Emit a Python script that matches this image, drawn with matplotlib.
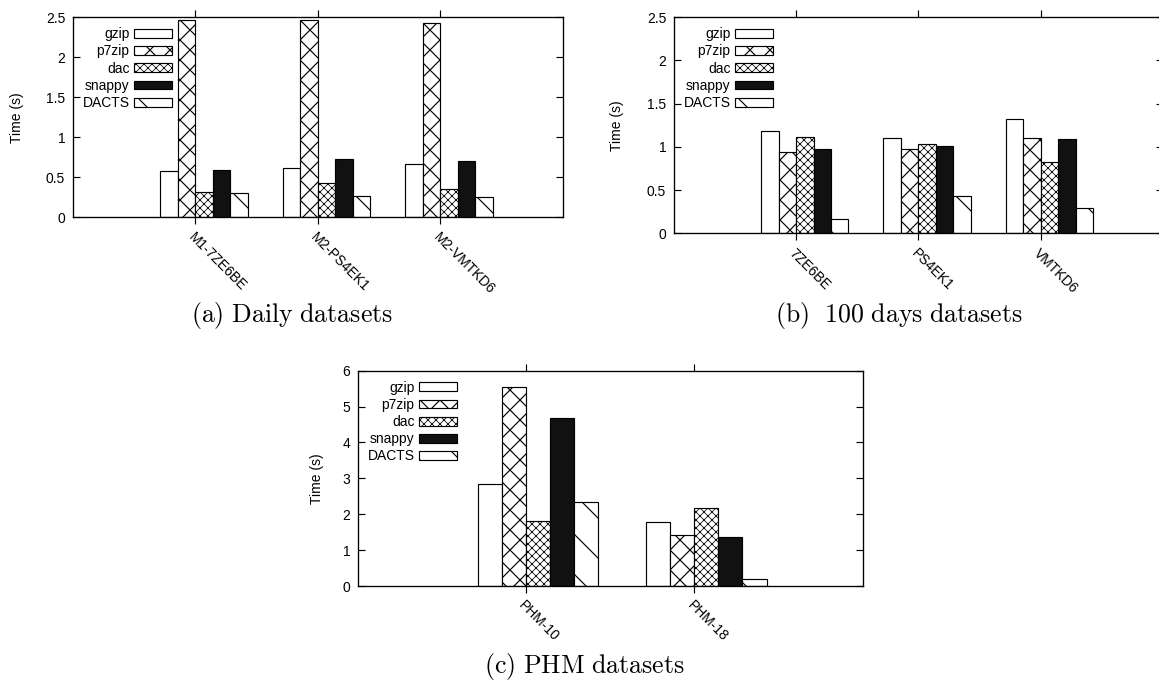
import matplotlib
matplotlib.use("Agg")
import matplotlib.pyplot as plt
import numpy as np
from matplotlib.ticker import FuncFormatter, MultipleLocator
from matplotlib.patches import Patch

# ---------------- data ----------------
series = ["gzip", "p7zip", "dac", "snappy", "DACTS"]

daily_labels = ["M1-7ZE6BE", "M2-PS4EK1", "M2-VMTKD6"]
daily_gzip = [0.58, 0.62, 0.66]
daily_p7zip = [2.46, 2.46, 2.43]
daily_dac = [0.31, 0.43, 0.35]
daily_snappy = [0.59, 0.73, 0.70]
daily_dacts = [0.30, 0.26, 0.25]

days100_labels = ["7ZE6BE", "PS4EK1", "VMTKD6"]
days100_gzip = [1.18, 1.10, 1.32]
days100_p7zip = [0.94, 0.97, 1.10]
days100_dac = [1.12, 1.03, 0.82]
days100_snappy = [0.97, 1.01, 1.09]
days100_dacts = [0.17, 0.43, 0.29]

phm_labels = ["PHM-10", "PHM-18"]
phm_gzip = [2.85, 1.77]
phm_p7zip = [5.54, 1.42]
phm_dac = [1.82, 2.17]
phm_snappy = [4.69, 1.37]
phm_dacts = [2.33, 0.19]

captions = [r"$\mathrm{(a)\ Daily\ datasets}$",
            r"$\mathrm{(b)\ \ 100\ days\ datasets}$",
            r"$\mathrm{(c)\ PHM\ datasets}$"]

# ---------------- style ----------------
W, H = 1159, 685
DPI = 120
plt.rcParams["font.family"] = ["Liberation Sans", "DejaVu Sans"]
plt.rcParams["mathtext.fontset"] = "cm"
plt.rcParams["hatch.linewidth"] = 0.7
plt.rcParams["hatch.color"] = "black"

styles = [
    dict(facecolor="white", hatch=None, hlw=0.7),
    dict(facecolor="white", hatch="xx", hlw=0.7),
    dict(facecolor="white", hatch="xxxxx", hlw=0.45),
    dict(facecolor="#111111", hatch=None, hlw=0.7),
    dict(facecolor="white", hatch="\\", hlw=0.7),
]

fig = plt.figure(figsize=(W / DPI, H / DPI), dpi=DPI)


def px_axes(x0, y0, x1, y1):
    return fig.add_axes([x0 / W, 1 - y1 / H, (x1 - x0) / W, (y1 - y0) / H])


def set_hlw(patch, lw):
    if hasattr(patch, "set_hatch_linewidth"):
        try:
            patch.set_hatch_linewidth(lw)
        except Exception:
            pass


def draw_panel(ax, labels, data, ymax, ystep, ylab_off, cap, cap_xy):
    n = len(labels)
    x = np.arange(n)
    w = 1.0 / 7
    for j, (name, vals) in enumerate(zip(series, data)):
        st = styles[j]
        bars = ax.bar(x + (j - 1.5) * w, vals, width=w, facecolor=st["facecolor"],
                      hatch=st["hatch"], edgecolor="black", linewidth=0.7, zorder=2)
        for b in bars:
            set_hlw(b, st["hlw"])
    ax.set_xlim(-1, n)
    ax.set_ylim(0, ymax)
    ax.yaxis.set_major_locator(MultipleLocator(ystep))
    ax.yaxis.set_major_formatter(FuncFormatter(lambda v, p: "%g" % v))
    ax.set_xticks(x)
    ax.set_xticklabels(labels, rotation=-45, ha="left", va="top",
                       rotation_mode="anchor", fontsize=8.3)
    ax.tick_params(axis="x", direction="out", top=True, bottom=True,
                   length=4, width=0.7, pad=3.5)
    ax.tick_params(axis="y", direction="in", left=True, right=True,
                   length=4, width=0.7, pad=4.5, labelsize=8.3)
    for s in ax.spines.values():
        s.set_linewidth(0.8)
    ax.set_ylabel("Time (s)", fontsize=8.3, va="center")
    ax.yaxis.set_label_coords(ylab_off, 0.5)
    handles = []
    for j in range(len(series)):
        p = Patch(facecolor=styles[j]["facecolor"], hatch=styles[j]["hatch"],
                  edgecolor="black", linewidth=0.7, label=series[j])
        handles.append(p)
    bbox = ax.get_position()
    aw = bbox.width * W
    ah = bbox.height * H
    leg = ax.legend(handles=handles, loc="upper right",
                    bbox_to_anchor=(99 / aw, 1 - 10 / ah),
                    markerfirst=False, frameon=False, fontsize=8.3,
                    handlelength=2.75, handleheight=0.6, handletextpad=0.3,
                    labelspacing=0.23, borderpad=0, borderaxespad=0)
    for j, lp in enumerate(leg.get_patches()):
        set_hlw(lp, styles[j]["hlw"])
    fig.text(cap_xy[0] / W, 1 - cap_xy[1] / H, cap, ha="center", va="center",
             fontsize=15.5)


axa = px_axes(72.7, 17.3, 562.7, 217.3)
draw_panel(axa, daily_labels,
           [daily_gzip, daily_p7zip, daily_dac, daily_snappy, daily_dacts],
           2.5, 0.5, -56 / 490, captions[0], (292, 316))

axb = px_axes(673.7, 17.3, 1163, 233.3)
draw_panel(axb, days100_labels,
           [days100_gzip, days100_p7zip, days100_dac, days100_snappy, days100_dacts],
           2.5, 0.5, -57 / 489.3, captions[1], (899, 316))

axc = px_axes(357.7, 370.7, 862.7, 586)
draw_panel(axc, phm_labels,
           [phm_gzip, phm_p7zip, phm_dac, phm_snappy, phm_dacts],
           6, 1, -41 / 505, captions[2], (584, 666))

fig.savefig("out.png", dpi=DPI)
